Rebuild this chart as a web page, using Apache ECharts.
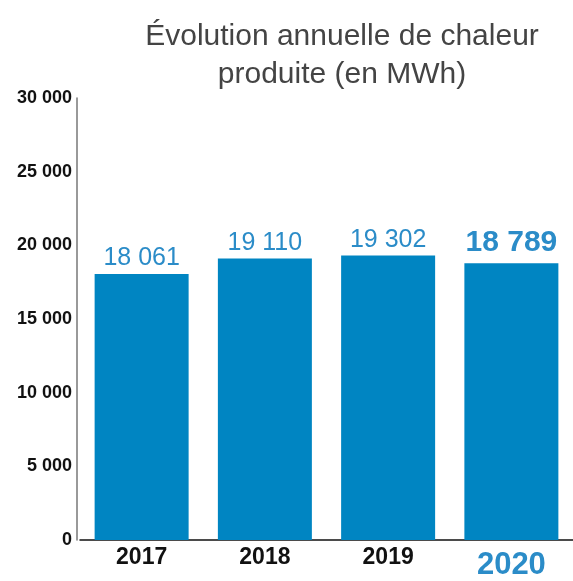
<!DOCTYPE html>
<html>
<head>
<meta charset="utf-8">
<script src="https://cdn.jsdelivr.net/npm/echarts@6/dist/echarts.min.js"></script>
<style>html,body{margin:0;padding:0;background:#fff}#c{width:573px;height:581px}</style>
</head>
<body>
<div id="c"></div>
<script>
var categories = ['2017', '2018', '2019', '2020'];
var values = [18061, 19110, 19302, 18789];
var yTicks = [0, 5000, 10000, 15000, 20000, 25000, 30000];
var highlightIndex = 3;

function fmt(v) { return String(v).replace(/\B(?=(\d{3})+(?!\d))/g, ' '); }

var chart = echarts.init(document.getElementById('c'), null, {renderer: 'canvas'});
var blue = '#0085C2';
var labelBlue = '#2B8CC8';
var font = 'Liberation Sans, Helvetica, Arial, sans-serif';

var data = values.map(function (v, i) {
  var item = {value: v};
  if (i === highlightIndex) {
    item.label = {fontSize: 30, fontWeight: 'bold', distance: 5};
  }
  return item;
});

chart.setOption({
  animation: false,
  title: {
    text: 'Évolution annuelle de chaleur\nproduite (en MWh)',
    left: 337,
    top: 13,
    textAlign: 'center',
    textStyle: {fontSize: 30, fontWeight: 'normal', color: '#444', fontFamily: font, lineHeight: 38}
  },
  grid: {left: 80, width: 500, top: 98, bottom: 36, containLabel: false},
  xAxis: {
    type: 'category',
    data: categories,
    axisLine: {lineStyle: {color: '#111', width: 1.5}},
    axisTick: {show: false},
    axisLabel: {
      margin: 6,
      fontFamily: font,
      formatter: function (v, i) { return i === highlightIndex ? '{h|' + v + '}' : '{n|' + v + '}'; },
      rich: {
        n: {fontSize: 23, fontWeight: 'bold', color: '#111', fontFamily: font},
        h: {fontSize: 31, fontWeight: 'bold', color: labelBlue, fontFamily: font, padding: [4, 0, 0, 0]}
      }
    }
  },
  yAxis: {
    type: 'value',
    min: yTicks[0],
    max: yTicks[yTicks.length - 1],
    interval: 5000,
    offset: 3,
    axisLine: {show: true, lineStyle: {color: '#777', width: 1.5}},
    axisTick: {show: false},
    splitLine: {show: false},
    axisLabel: {
      margin: 5,
      fontSize: 18,
      fontWeight: 'bold',
      color: '#111',
      fontFamily: font,
      formatter: function (v) { return fmt(v); }
    }
  },
  series: [{
    type: 'bar',
    data: data,
    barWidth: 94,
    itemStyle: {color: blue},
    label: {
      show: true,
      position: 'top',
      distance: 3,
      fontSize: 25,
      color: labelBlue,
      fontFamily: font,
      formatter: function (p) { return fmt(p.value); }
    }
  }]
});
</script>
</body>
</html>
